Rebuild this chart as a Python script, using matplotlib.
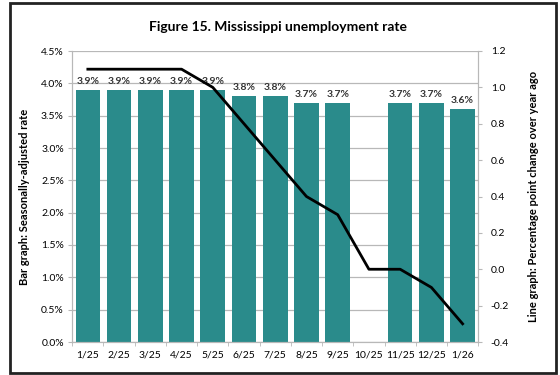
import matplotlib
matplotlib.use("Agg")
import matplotlib.pyplot as plt
import numpy as np
from matplotlib.patches import Rectangle

# monthly data
months = ['1/25', '2/25', '3/25', '4/25', '5/25', '6/25', '7/25', '8/25', '9/25',
          '10/25', '11/25', '12/25', '1/26']
rate = [3.9, 3.9, 3.9, 3.9, 3.9, 3.8, 3.8, 3.7, 3.7, np.nan, 3.7, 3.7, 3.6]
yoy_change = [1.1, 1.1, 1.1, 1.1, 1.0, 0.8, 0.6, 0.4, 0.3, 0.0, 0.0, -0.1, -0.3]

bar_color = '#2a8b8b'
grid_color = '#b8b8b8'

plt.rcParams['font.family'] = ['Lato', 'DejaVu Sans']

fig = plt.figure(figsize=(5.6, 3.75), dpi=100)
ax = fig.add_axes([0.129, 0.088, 0.725, 0.776])

x = np.arange(len(months))
ax.bar(x, rate, width=0.79, color=bar_color, zorder=2)
for xi, v in zip(x, rate):
    if not np.isnan(v):
        ax.text(xi, v + 0.06, f'{v:.1f}%', ha='center', va='bottom',
                fontsize=7.5, fontweight='bold', color='#333333', zorder=4)

ax.set_ylim(0, 4.5)
ax.set_yticks(np.arange(0, 4.51, 0.5))
ax.set_yticklabels([f'{t:.1f}%' for t in np.arange(0, 4.51, 0.5)])
ax.set_xlim(-0.5, len(months) - 0.5)
ax.set_xticks(x)
ax.set_xticklabels(months)
ax.set_xticks(np.arange(-0.5, len(months), 1), minor=True)
ax.tick_params(axis='x', which='major', length=0, labelsize=7.5, pad=6)
ax.tick_params(axis='x', which='minor', length=3, color=grid_color)
ax.tick_params(axis='y', length=3, color=grid_color, labelsize=7.5, pad=3)
ax.yaxis.grid(True, color=grid_color, linewidth=0.9, zorder=0)
ax.set_axisbelow(True)
for side in ['top', 'right', 'left', 'bottom']:
    ax.spines[side].set_color(grid_color)
ax.spines['top'].set_visible(False)
ax.set_ylabel('Bar graph: Seasonally-adjusted rate', fontsize=8,
              fontweight='bold', labelpad=8)

ax2 = ax.twinx()
ax2.plot(x, yoy_change, color='black', linewidth=2, zorder=3)
ax2.set_ylim(-0.4, 1.2)
ax2.set_yticks(np.arange(-0.4, 1.21, 0.2))
ax2.set_yticklabels([f'{t:.1f}' for t in np.arange(-0.4, 1.21, 0.2)])
ax2.tick_params(axis='y', length=3, color=grid_color, labelsize=7.5, pad=6)
for side in ['top', 'right', 'left', 'bottom']:
    ax2.spines[side].set_color(grid_color)
ax2.spines['top'].set_visible(False)
ax2.set_ylabel('Line graph: Percentage point change over year ago', fontsize=8,
               fontweight='bold', labelpad=14)

fig.text(0.497, 0.928, 'Figure 15. Mississippi unemployment rate', ha='center',
         va='center', fontsize=10, fontweight='bold')

# outer frame
fig.patches.append(Rectangle((0.018, 0.005), 0.974, 0.987, transform=fig.transFigure,
                             fill=False, edgecolor='#222222', linewidth=2))

fig.savefig('out.png', dpi=100)
